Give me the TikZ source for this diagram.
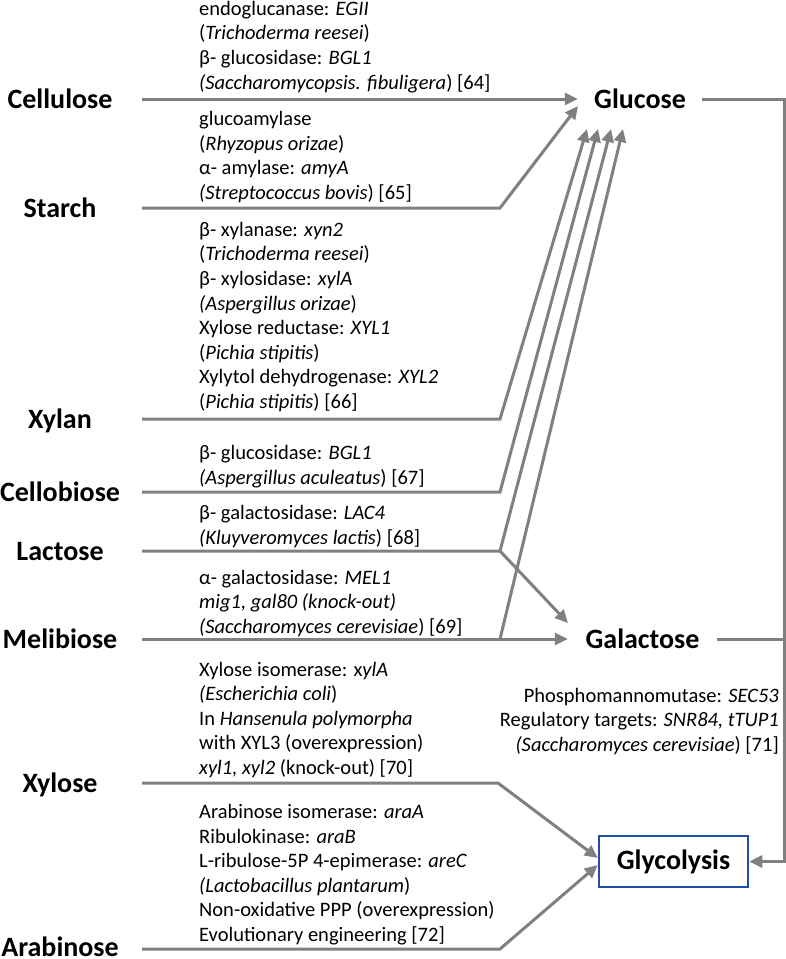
\documentclass[tikz,border=0pt]{standalone}
\usepackage{fontspec}
\setmainfont{Carlito}
\usetikzlibrary{arrows.meta}
\definecolor{conn}{HTML}{808080}
\definecolor{boxblue}{HTML}{1F4EAA}
\begin{document}
\begin{tikzpicture}[x=1pt,y=-1pt,
  sugar/.style={font=\fontsize{28}{30}\selectfont\bfseries, inner sep=0pt, text height=19pt, text depth=0pt, anchor=center},
  src/.style={sugar, minimum width=164pt},
  info/.style={font=\fontsize{20.5}{24.6}\selectfont, inner sep=0pt, align=left, anchor=base west},
  conline/.style={draw=conn, line width=3pt, line join=miter},
  conarrow/.style={conline, -{Triangle[length=13pt,width=12pt]}, shorten >=0pt}
]
\useasboundingbox (0,0) rectangle (786,959);

% source sugars
\node[src] (cellulose) at (60,99) {Cellulose};
\node[src] (starch) at (60,208) {Starch};
\node[src] (xylan) at (60,419) {Xylan};
\node[src] (cellobiose) at (60,492) {Cellobiose};
\node[src] (lactose) at (60,551) {Lactose};
\node[src] (melibiose) at (60,639) {Melibiose};
\node[src] (xylose) at (60,783) {Xylose};
\node[src] (arabinose) at (60,947) {Arabinose};

% targets
\node[sugar, minimum width=124pt] (glucose) at (640,99) {Glucose};
\node[sugar, minimum width=149pt] (galactose) at (642.5,639) {Galactose};
\node[font=\fontsize{28}{30}\selectfont\bfseries, draw=boxblue, line width=2.5pt, minimum width=149pt, minimum height=51pt, inner sep=0pt] (glycolysis) at (673.5,861.5) {Glycolysis};

% named points
\coordinate (gs) at (578,106);
\coordinate (g1) at (587,129);
\coordinate (g2) at (598,129);
\coordinate (g3) at (611,129);
\coordinate (g4) at (623,129);
\coordinate (cstarch) at (500,208);
\coordinate (cxylan) at (500,419);
\coordinate (ccello) at (500,492);
\coordinate (clact) at (500,551);
\coordinate (cmeli) at (500,639);
\coordinate (cxylose) at (498,783);
\coordinate (carab) at (500,949);
\coordinate (galtip) at (568,623);
\coordinate (rtop) at (784,99);
\coordinate (rbot) at (784,861.5);
\coordinate (rgal) at (784,639);
\coordinate (arabend) at (142,949);

% connectors
\draw[conarrow] (cellulose.east) -- (glucose.west);
\draw[conarrow] (starch.east) -- (cstarch) -- (gs);
\draw[conarrow] (xylan.east) -- (cxylan) -- (g1);
\draw[conarrow] (cellobiose.east) -- (ccello) -- (g2);
\draw[conarrow] (lactose.east) -- (clact) -- (g3);
\draw[conarrow] (clact) -- (galtip);
\draw[conarrow] (melibiose.east) -- (galactose.west);
\draw[conarrow] (cmeli) -- (g4);
\draw[conarrow] (xylose.east) -- (cxylose) -- ([yshift=3.5pt]glycolysis.west);
\draw[conarrow] (arabend) -- (carab) -- ([yshift=-3.5pt]glycolysis.west);
\draw[conarrow] (glucose.east) -- (rtop) -- (rbot) -- (glycolysis.east);
\draw[conline] (galactose.east) -- (rgal);

% enzyme information (anchored at the baseline of the last line)
\node[info] (t1) at (199,89) {endoglucanase: \textit{EGII}\\(\textit{Trichoderma reesei})\\β- glucosidase: \textit{BGL1}\\\textit{(Saccharomycopsis. fibuligera}) [64]};
\node[info] (t2) at (199,199.5) {glucoamylase\\(\textit{Rhyzopus orizae})\\α- amylase: \textit{amyA}\\\textit{(Streptococcus bovis}) [65]};
\node[info] (t3) at (199,408.5) {β- xylanase: \textit{xyn2}\\(\textit{Trichoderma reesei})\\β- xylosidase: \textit{xylA}\\\textit{(Aspergillus orizae})\\Xylose reductase: \textit{XYL1}\\(\textit{Pichia stipitis})\\Xylytol dehydrogenase: \textit{XYL2}\\(\textit{Pichia stipitis}) [66]};
\node[info] (t4) at (199,484.5) {β- glucosidase: \textit{BGL1}\\\textit{(Aspergillus aculeatus}) [67]};
\node[info] (t5) at (199,544.5) {β- galactosidase: \textit{LAC4}\\\textit{(Kluyveromyces lactis}) [68]};
\node[info] (t6) at (199,633.5) {α- galactosidase: \textit{MEL1}\\\textit{mig1, gal80 (knock-out)}\\\textit{(Saccharomyces cerevisiae}) [69]};
\node[info] (t7) at (199,774.5) {Xylose isomerase: x\textit{ylA}\\\textit{(Escherichia coli})\\In \textit{Hansenula polymorpha}\\with XYL3 (overexpression)\\\textit{xyl1, xyl2} (knock-out) [70]};
\node[info] (t8) at (199,941.5) {Arabinose isomerase: \textit{araA}\\Ribulokinase: \textit{araB}\\L-ribulose-5P 4-epimerase: \textit{areC}\\\textit{(Lactobacillus plantarum})\\Non-oxidative PPP (overexpression)\\Evolutionary engineering [72]};
\node[info, align=right, anchor=base east] (t9) at (779,751.5) {Phosphomannomutase: \textit{SEC53}\\Regulatory targets: \textit{SNR84, tTUP1}\\\textit{(Saccharomyces cerevisiae}) [71]};
\end{tikzpicture}
\end{document}
